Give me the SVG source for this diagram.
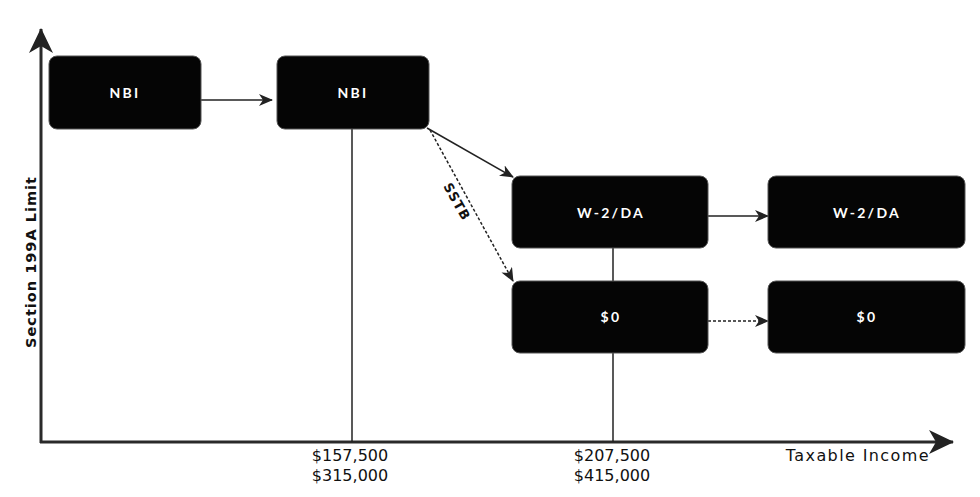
<svg xmlns="http://www.w3.org/2000/svg" width="980" height="497" viewBox="0 0 980 497">
<style>
.box{fill:#050505;stroke:#555;stroke-width:1}
.lbl{fill:#fff;font-family:"Lato","DejaVu Sans",sans-serif;font-weight:bold;font-size:14px;letter-spacing:2.3px;text-anchor:middle}
.ax{stroke:#2a2a2a;stroke-width:3;fill:none}
.ln{stroke:#222;stroke-width:1.5;fill:none}
.dot{stroke:#222;stroke-width:1.5;fill:none;stroke-dasharray:3 2}
.t{fill:#111;font-family:"DejaVu Sans","Liberation Sans",sans-serif;font-size:16px}
.tb{fill:#111;font-family:"DejaVu Sans","Liberation Sans",sans-serif;font-weight:bold;letter-spacing:1px;text-anchor:middle}
</style>
<defs>
<marker id="ah" markerWidth="14" markerHeight="12" refX="13" refY="6" orient="auto" markerUnits="userSpaceOnUse">
<path d="M0,0 L14,6 L0,12 L4,6 Z" fill="#222"/>
</marker>
<marker id="axh" markerWidth="26" markerHeight="24" refX="24" refY="12" orient="auto" markerUnits="userSpaceOnUse">
<path d="M0,0 L25,12 L0,24 L7,12 Z" fill="#222"/>
</marker>
</defs>
<g id="axes">
<line class="ax" x1="41" y1="443" x2="41" y2="29" marker-end="url(#axh)"/>
<line class="ax" x1="40" y1="442" x2="953" y2="442" marker-end="url(#axh)"/>
<text class="tb" style="font-size:14.5px" transform="translate(36,262) rotate(-90)">Section 199A Limit</text>
<text class="t" x="930" y="461" text-anchor="end" letter-spacing="1.4">Taxable Income</text>
<text class="t" x="350" y="461" text-anchor="middle">$157,500</text>
<text class="t" x="350" y="481" text-anchor="middle">$315,000</text>
<text class="t" x="612" y="461" text-anchor="middle">$207,500</text>
<text class="t" x="612" y="481" text-anchor="middle">$415,000</text>
</g>
<g id="connectors">
<line class="ln" x1="352" y1="129" x2="352" y2="442"/>
<line class="ln" x1="613" y1="248" x2="613" y2="281"/>
<line class="ln" x1="613" y1="353" x2="613" y2="442"/>
<line class="ln" x1="201" y1="100" x2="272" y2="100" marker-end="url(#ah)"/>
<line class="ln" x1="427" y1="128" x2="513" y2="177" marker-end="url(#ah)"/>
<line class="dot" x1="430" y1="130" x2="513" y2="281" marker-end="url(#ah)"/>
<line class="ln" x1="708" y1="216" x2="768" y2="216" marker-end="url(#ah)"/>
<line class="dot" x1="708" y1="321" x2="768" y2="321" marker-end="url(#ah)"/>
<text class="tb" style="font-size:13px" transform="translate(453,204) rotate(61)">SSTB</text>
</g>
<g id="nbi1"><rect class="box" x="49" y="56" width="152" height="73" rx="8"/><text class="lbl" x="125" y="98">NBI</text></g>
<g id="nbi2"><rect class="box" x="277" y="56" width="152" height="73" rx="8"/><text class="lbl" x="353" y="98">NBI</text></g>
<g id="w2da1"><rect class="box" x="512" y="176" width="196" height="72" rx="8"/><text class="lbl" x="611" y="218">W-2/DA</text></g>
<g id="zero1"><rect class="box" x="512" y="281" width="196" height="72" rx="8"/><text class="lbl" x="611" y="322">$0</text></g>
<g id="w2da2"><rect class="box" x="768" y="176" width="197" height="72" rx="8"/><text class="lbl" x="867" y="218">W-2/DA</text></g>
<g id="zero2"><rect class="box" x="768" y="281" width="197" height="72" rx="8"/><text class="lbl" x="867" y="322">$0</text></g>
</svg>
